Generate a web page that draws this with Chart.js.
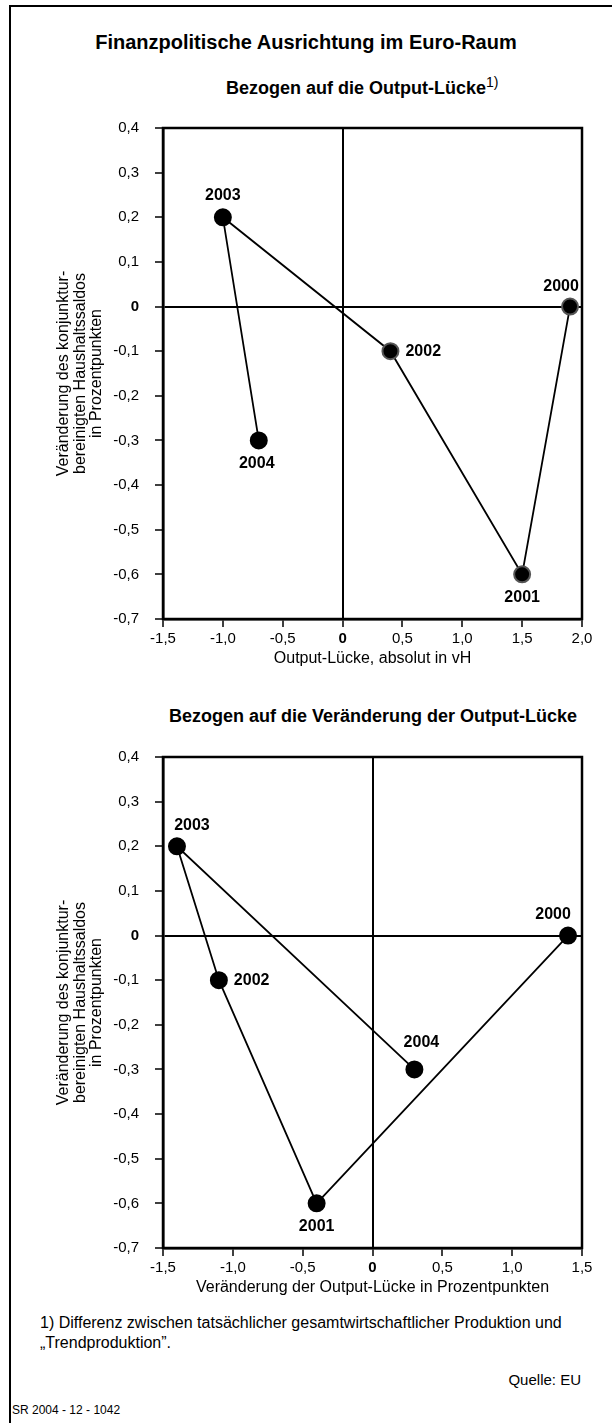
<!DOCTYPE html>
<html>
<head>
<meta charset="utf-8">
<script src="https://cdn.jsdelivr.net/npm/chart.js@4.4.1/dist/chart.umd.min.js"></script>
<style>
body { margin: 0; width: 612px; height: 1423px; position: relative; background: #fff; overflow: hidden;
       font-family: "Liberation Sans", Arial, sans-serif; color: #000; }
.frame { position: absolute; left: 9px; top: 5px; right: 0; bottom: 0; border-top: 2px solid #000; border-left: 2px solid #000; }
.t { position: absolute; white-space: nowrap; color: #000; }
.sup { position: relative; top: -7px; font-weight: normal; font-size: 14px; color: #000; }
canvas { position: absolute; left: 0; }
</style>
</head>
<body>
<div class="frame"></div>
<div class="t" style="left:0;width:612px;text-align:center;top:32px;font-size:20px;line-height:20px;font-weight:bold">Finanzpolitische Ausrichtung im Euro-Raum</div>
<div class="t" style="left:226px;top:79px;font-size:18px;line-height:18px;font-weight:bold">Bezogen auf die Output-Lücke<span class="sup">1)</span></div>
<canvas id="c1" width="612" height="580" style="top:100px"></canvas>
<div class="t" style="left:163px;width:420px;text-align:center;top:707px;font-size:18px;line-height:18px;font-weight:bold">Bezogen auf die Veränderung der Output-Lücke</div>
<canvas id="c2" width="612" height="580" style="top:729px"></canvas>
<div class="t" style="left:40px;top:1313px;font-size:16px;line-height:20px">1) Differenz zwischen tatsächlicher gesamtwirtschaftlicher Produktion und<br>„Trendproduktion”.</div>
<div class="t" style="right:31px;top:1372px;font-size:15px;line-height:16px">Quelle: EU</div>
<div class="t" style="left:12px;top:1403px;font-size:12px;line-height:14px">SR 2004 - 12 - 1042</div>
<script>
// data
const years = ["2000", "2001", "2002", "2003", "2004"];
const outputGap = [1.9, 1.5, 0.4, -1.0, -0.7];
const balanceChange1 = [0, -0.6, -0.1, 0.2, -0.3];
const outputGapChange = [1.4, -0.4, -1.1, -1.4, 0.3];
const balanceChange2 = [0, -0.6, -0.1, 0.2, -0.3];
const yRange = [-0.7, 0.4];
const xRange1 = [-1.5, 2.0];
const xRange2 = [-1.5, 1.5];
const yTitle = ["Veränderung des konjunktur-", "bereinigten Haushaltssaldos", "in Prozentpunkten"];
const xTitle1 = "Output-Lücke, absolut in vH";
const xTitle2 = "Veränderung der Output-Lücke in Prozentpunkten";

const FONT = '"Liberation Sans", Arial, sans-serif';
const isZero = v => Math.abs(v) < 1e-9;
const fmt = v => isZero(v) ? "0" : v.toFixed(1).replace(".", ",");
const tickFont = c => ({ family: FONT, size: 15, weight: c.tick && isZero(c.tick.value) ? "bold" : "normal" });
const zeroLine = c => c.tick && isZero(c.tick.value) ? "#000" : "rgba(0,0,0,0)";

// year labels next to the points
const yearLabels = {
    id: "yearLabels",
    afterDatasetsDraw(chart, args, opts) {
        const ctx = chart.ctx;
        const meta = chart.getDatasetMeta(0);
        ctx.save();
        ctx.font = "bold 16px " + FONT;
        ctx.fillStyle = "#000";
        ctx.textBaseline = "middle";
        meta.data.forEach((pt, i) => {
            const [dx, dy, align] = opts.place[i];
            ctx.textAlign = align;
            ctx.fillText(years[i], pt.x + dx, pt.y + dy);
        });
        ctx.restore();
    }
};

// top + right edge of the plot box
const boxEdge = {
    id: "boxEdge",
    beforeDatasetsDraw(chart) {
        const { ctx, chartArea: a } = chart;
        ctx.save();
        ctx.strokeStyle = "#000";
        ctx.lineWidth = 2.5;
        ctx.strokeRect(a.left, a.top, a.right - a.left, a.bottom - a.top);
        ctx.restore();
    }
};

function makeChart(id, xs, ys, xRange, xTitle, ring, place) {
    return new Chart(document.getElementById(id), {
        type: "scatter",
        data: {
            datasets: [{
                data: xs.map((x, i) => ({ x, y: ys[i] })),
                showLine: true,
                borderColor: "#000",
                borderWidth: 1.8,
                pointRadius: 8,
                pointBorderWidth: 2,
                pointBackgroundColor: "#000",
                pointBorderColor: ring,
                clip: false,
            }]
        },
        options: {
            responsive: false,
            animation: false,
            devicePixelRatio: 1,
            layout: { padding: { top: 28, right: 30, left: 0, bottom: 0 } },
            plugins: {
                legend: { display: false },
                tooltip: { enabled: false },
                yearLabels: { place },
            },
            scales: {
                x: {
                    type: "linear", min: xRange[0], max: xRange[1],
                    ticks: { stepSize: 0.5, color: "#000", padding: 3, font: tickFont, callback: fmt },
                    grid: { color: zeroLine, lineWidth: 2, tickLength: 8, tickColor: "#000", tickWidth: 1.5 },
                    border: { display: true, color: "#000", width: 2.5 },
                    title: { display: true, text: xTitle, color: "#000", font: { family: FONT, size: 16 }, padding: { top: 0, bottom: 12 } },
                    afterFit: s => { s.height = 61; },
                },
                y: {
                    type: "linear", min: yRange[0], max: yRange[1],
                    ticks: { stepSize: 0.1, color: "#000", padding: 16, font: tickFont, callback: fmt },
                    grid: { color: zeroLine, lineWidth: 2, tickLength: 8, tickColor: "#000", tickWidth: 1.5 },
                    border: { display: true, color: "#000", width: 2.5 },
                    title: { display: true, text: yTitle, color: "#000", font: { family: FONT, size: 16, lineHeight: 1.05 }, padding: { top: 55, bottom: 0 } },
                    afterFit: s => { s.width = 163; },
                }
            }
        },
        plugins: [boxEdge, yearLabels]
    });
}

makeChart("c1", outputGap, balanceChange1, xRange1, xTitle1,
    ["#555", "#555", "#555", "#000", "#000"],
    [[-9, -20, "center"], [0, 23, "center"], [15, 0, "left"], [0, -22, "center"], [-2, 23, "center"]]);

makeChart("c2", outputGapChange, balanceChange2, xRange2, xTitle2,
    "#000",
    [[-15, -21, "center"], [0, 23, "center"], [15, 0, "left"], [15, -21, "center"], [7, -27, "center"]]);
</script>
</body>
</html>
